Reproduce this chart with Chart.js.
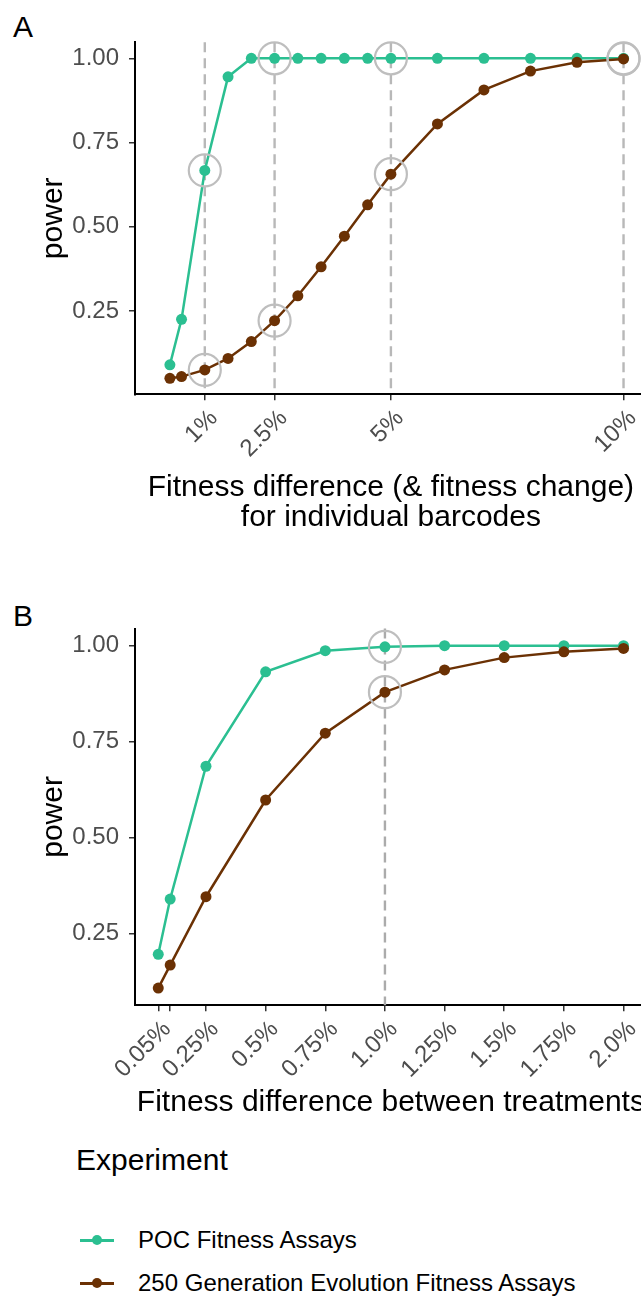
<!DOCTYPE html>
<html>
<head>
<title>Power curves</title>
<script src="https://cdn.jsdelivr.net/npm/chart.js"></script>
<style>
  html, body { margin: 0; padding: 0; background: #fff; overflow: hidden; }
  body { width: 641px; height: 1300px; position: relative; font-family: "Liberation Sans", Arial, sans-serif; }
  canvas { position: absolute; left: 0; display: block; }
  .tag { position: absolute; left: 13px; font-size: 30px; line-height: 30px; color: #000; }
  .legend-title { position: absolute; left: 76px; top: 1145px; font-size: 30px; line-height: 30px; color: #000; }
  .item { position: absolute; left: 80px; height: 24px; }
  .item .line { position: absolute; left: 0; top: 11px; width: 34px; height: 2.5px; }
  .item .dot { position: absolute; left: 12px; top: 7px; width: 10px; height: 10px; border-radius: 50%; }
  .item span { position: absolute; left: 58px; top: 0; font-size: 24px; line-height: 24px; white-space: nowrap; color: #000; }
</style>
</head>
<body>
<div class="tag" style="top:12px">A</div>
<canvas id="chartA" width="665" height="540" style="top:0"></canvas>
<div class="tag" style="top:601px">B</div>
<canvas id="chartB" width="665" height="545" style="top:580px"></canvas>

<div class="legend-title">Experiment</div>
<div class="item" style="top:1228px"><div class="line" style="background:#2bbf91"></div><div class="dot" style="background:#2bbf91"></div><span>POC Fitness Assays</span></div>
<div class="item" style="top:1271px"><div class="line" style="background:#6b3104"></div><div class="dot" style="background:#6b3104"></div><span>250 Generation Evolution Fitness Assays</span></div>

<script>
// panel A: individual barcodes
const xA = [0.25, 0.5, 1, 1.5, 2, 2.5, 3, 3.5, 4, 4.5, 5, 6, 7, 8, 9, 10];
const pocA = [0.09, 0.225, 0.667, 0.945, 1, 1, 1, 1, 1, 1, 1, 1, 1, 1, 1, 1];
const evoA = [0.05, 0.055, 0.075, 0.109, 0.159, 0.221, 0.295, 0.381, 0.472, 0.565, 0.656, 0.805, 0.906, 0.962, 0.988, 0.998];
const markA = [1, 2.5, 5, 10];
const xTicksA = [1, 2.5, 5, 10];
const xLabelsA = ['1%', '2.5%', '5%', '10%'];

// panel B: between treatments
const xB = [0.05, 0.1, 0.25, 0.5, 0.75, 1.0, 1.25, 1.5, 1.75, 2.0];
const pocB = [0.196, 0.34, 0.686, 0.932, 0.987, 0.997, 1, 1, 1, 1];
const evoB = [0.108, 0.168, 0.346, 0.598, 0.772, 0.879, 0.937, 0.969, 0.984, 0.993];
const markB = [1.0];
const xTicksB = [0.05, 0.1, 0.25, 0.5, 0.75, 1.0, 1.25, 1.5, 1.75, 2.0];
const xLabelsB = ['0.05%', '', '0.25%', '0.5%', '0.75%', '1.0%', '1.25%', '1.5%', '1.75%', '2.0%'];

const yTicks = [0.25, 0.5, 0.75, 1.0];
const yLabels = ['0.25', '0.50', '0.75', '1.00'];

const GREEN = '#2bbf91';
const BROWN = '#6b3104';
const FONT = '"Liberation Sans", Arial, sans-serif';

// dashed guides at the highlighted x values
const vlines = {
    id: 'vlines',
    beforeDatasetsDraw(chart, args, opts) {
        const { ctx, chartArea, scales } = chart;
        ctx.save();
        ctx.strokeStyle = opts.color;
        ctx.lineWidth = 2.4;
        ctx.setLineDash([10, 6]);
        opts.at.forEach(v => {
            const px = scales.x.getPixelForValue(v);
            ctx.beginPath();
            ctx.moveTo(px, chartArea.top);
            ctx.lineTo(px, chartArea.bottom);
            ctx.stroke();
        });
        ctx.restore();
    }
};

function pts(xs, ys) {
    return xs.map((x, i) => ({ x: x, y: ys[i] }));
}

function marked(xs, ys, marks) {
    return pts(xs, ys).filter(p => marks.includes(p.x));
}

function makePanel(id, o) {
    const circles = marked(o.xs, o.poc, o.marks).concat(marked(o.xs, o.evo, o.marks));
    return new Chart(document.getElementById(id), {
        type: 'scatter',
        data: {
            datasets: [
                {
                    data: circles,
                    showLine: false,
                    pointRadius: 16,
                    pointBackgroundColor: 'rgba(0,0,0,0)',
                    pointBorderColor: '#bebebe',
                    pointBorderWidth: 2.2,
                    clip: false
                },
                {
                    data: pts(o.xs, o.evo),
                    showLine: true,
                    borderColor: BROWN,
                    borderWidth: 2.5,
                    pointRadius: 5.5,
                    pointBackgroundColor: BROWN,
                    pointBorderWidth: 0,
                    clip: false
                },
                {
                    data: pts(o.xs, o.poc),
                    showLine: true,
                    borderColor: GREEN,
                    borderWidth: 2.5,
                    pointRadius: 5.5,
                    pointBackgroundColor: GREEN,
                    pointBorderWidth: 0,
                    clip: false
                }
            ]
        },
        options: {
            responsive: false,
            animation: false,
            devicePixelRatio: 1,
            layout: { padding: { left: 0, right: 0, top: o.top, bottom: 0 } },
            plugins: {
                legend: { display: false },
                tooltip: { enabled: false },
                vlines: { at: o.marks, color: o.dashColor }
            },
            scales: {
                x: {
                    type: 'linear',
                    min: o.xmin,
                    max: o.xmax,
                    afterBuildTicks: s => { s.ticks = o.xTicks.map(v => ({ value: v })); },
                    afterFit: s => { s.height = o.xHeight; },
                    ticks: {
                        callback: (v, i) => o.xLabels[i],
                        color: '#4d4d4d',
                        font: { family: FONT, size: 24 },
                        minRotation: 45,
                        maxRotation: 45,
                        autoSkip: false,
                        labelOffset: 9,
                        padding: 4
                    },
                    grid: { drawOnChartArea: false, drawTicks: true, tickLength: 6, color: '#333', lineWidth: 1.5 },
                    border: { display: true, color: '#000', width: 2 },
                    title: {
                        display: true,
                        text: o.xTitle,
                        color: '#000',
                        font: { family: FONT, size: 30, lineHeight: 1 },
                        padding: { top: 0, bottom: 7 }
                    }
                },
                y: {
                    min: o.ymin,
                    max: o.ymax,
                    afterBuildTicks: s => { s.ticks = yTicks.map(v => ({ value: v })); },
                    afterFit: s => { s.width = 135; },
                    ticks: {
                        callback: (v, i) => yLabels[i],
                        color: '#4d4d4d',
                        font: { family: FONT, size: 24 },
                        padding: 10
                    },
                    grid: { drawOnChartArea: false, drawTicks: true, tickLength: 6, color: '#333', lineWidth: 1.5 },
                    border: { display: true, color: '#000', width: 2 },
                    title: {
                        display: true,
                        text: 'power',
                        color: '#000',
                        font: { family: FONT, size: 30, lineHeight: 1 },
                        padding: { top: 39, bottom: 0 }
                    }
                }
            }
        },
        plugins: [vlines]
    });
}

makePanel('chartA', {
    xs: xA, poc: pocA, evo: evoA, marks: markA,
    xTicks: xTicksA, xLabels: xLabelsA,
    xmin: -0.5, xmax: 10.5, ymin: 0.0025, ymax: 1.0475,
    top: 42.3, xHeight: 145.7, dashColor: '#b8b8b8',
    xTitle: ['Fitness difference (& fitness change)', 'for individual barcodes']
});

makePanel('chartB', {
    xs: xB, poc: pocB, evo: evoB, marks: markB,
    xTicks: xTicksB, xLabels: xLabelsB,
    xmin: -0.0475, xmax: 2.0975, ymin: 0.0634, ymax: 1.0446,
    top: 48.6, xHeight: 119.8, dashColor: '#ababab',
    xTitle: 'Fitness difference between treatments'
});
</script>
</body>
</html>
